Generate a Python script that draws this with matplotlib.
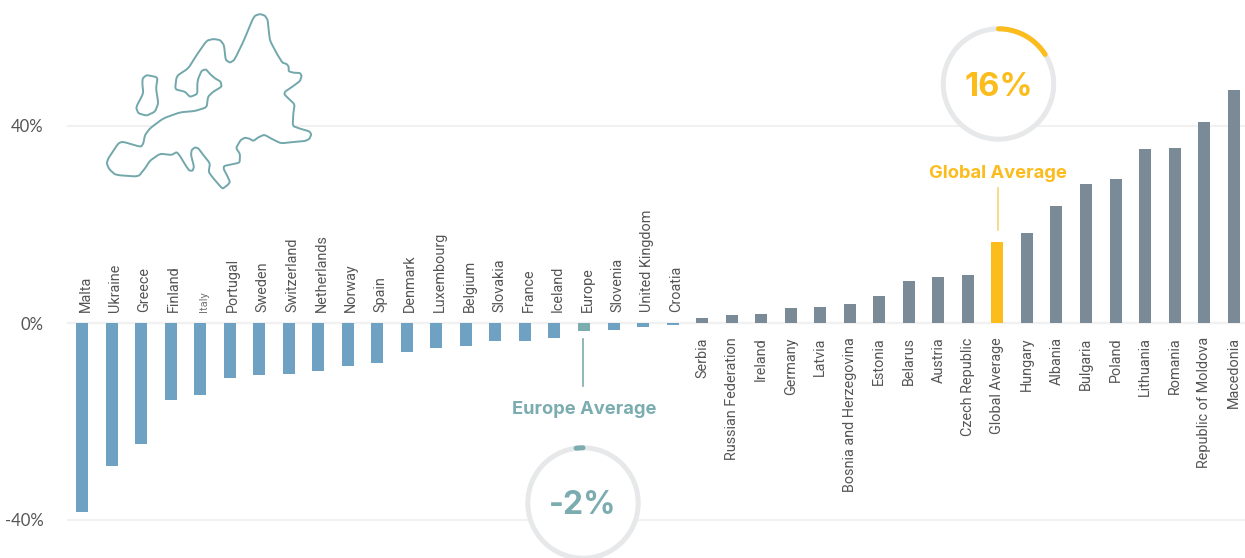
import matplotlib
matplotlib.use('Agg')
import matplotlib.pyplot as plt
import numpy as np
from matplotlib.patches import Circle, Polygon

# data
countries = ['Malta','Ukraine','Greece','Finland','Italy','Portugal','Sweden','Switzerland',
             'Netherlands','Norway','Spain','Denmark','Luxembourg','Belgium','Slovakia','France',
             'Iceland','Europe','Slovenia','United Kingdom','Croatia','Serbia','Russian Federation',
             'Ireland','Germany','Latvia','Bosnia and Herzegovina','Estonia','Belarus','Austria',
             'Czech Republic','Global Average','Hungary','Albania','Bulgaria','Poland','Lithuania',
             'Romania','Republic of Moldova','Macedonia']
values = [-38.4,-29.0,-24.6,-15.6,-14.6,-11.2,-10.6,-10.4,-9.7,-8.7,-8.1,-5.9,-5.1,-4.7,-3.7,-3.7,
          -3.0,-1.6,-1.4,-0.8,-0.4,1.0,1.6,1.9,3.0,3.3,3.9,5.5,8.5,9.3,9.8,16.4,18.3,23.8,28.2,
          29.2,35.3,35.5,40.8,47.3]
y_ticks = [-40,0,40]
y_tick_labels = ['-40%','0%','40%']
global_pct = 16
europe_pct = 2

# map outline, traced in pixels x3
map_main = [(780,42),(795,47),(803,60),(806,90),(810,122),(830,160),(847,188),(860,192),(866,200),
            (866,214),(880,218),(900,219),(905,228),(900,243),(880,258),(855,275),(853,283),(865,295),
            (884,313),(880,340),(878,378),(900,386),(928,394),(934,403),(928,417),(915,423),(880,426),
            (843,430),(818,418),(793,404),(775,412),(760,423),(748,416),(735,413),(722,420),(708,444),
            (720,462),(719,488),(695,493),(672,498),(671,507),(682,528),(690,546),(683,555),(668,566),
            (660,558),(640,535),(626,516),(630,490),(610,465),(595,445),(585,442),(575,450),(573,465),
            (582,500),(578,512),(568,512),(558,498),(540,468),(530,456),(515,465),(480,461),(450,482),
            (435,505),(415,530),(347,525),(328,508),(320,490),(325,475),(355,430),(368,425),(423,441),
            (430,430),(435,405),(450,385),(490,355),(540,337),(585,333),(620,322),(624,290),(640,275),
            (665,260),(662,245),(645,235),(630,222),(618,208),(605,212),(595,235),(592,250),(592,282),
            (570,291),(555,275),(525,268),(530,228),(565,205),(590,165),(620,122),(640,117),(660,120),
            (672,135),(677,180),(690,188),(703,180),(730,125),(757,60),(765,47)]
map_island = [(428,235),(440,225),(473,232),(468,265),(475,310),(465,335),(440,347),(415,340),
              (408,322),(430,280),(427,250)]

W, H = 1245, 558
BLUE = '#6fa1c3'
GREY = '#7a8a96'
YELLOW = '#fbbc1c'
TEAL = '#7bacaf'
RING = '#e7e8ea'
TEXT = '#555555'

def smooth(points, n=2, cut=0.14):
    # light corner cutting, long straight runs stay straight
    p = np.array(points, dtype=float) / 3
    for _ in range(n):
        q = np.roll(p, -1, axis=0)
        p = np.column_stack([(1-cut)*p + cut*q, cut*p + (1-cut)*q]).reshape(-1, 2)
    return p

plt.rcParams['font.family'] = ['Roboto', 'DejaVu Sans']
fig = plt.figure(figsize=(W/100, H/100), dpi=100)

# main axes, 0% at 323px and 4.925px per percent
left = 67
ax = fig.add_axes([left/W, 0, (W-left)/W, 1])
step = 29.53
ax.set_xlim((left-82)/step, (W-82)/step)
ax.set_ylim((323-H)/4.925, 323/4.925)

colors = []
for c, v in zip(countries, values):
    if c == 'Europe':
        colors.append(TEAL)
    elif c == 'Global Average':
        colors.append(YELLOW)
    elif v < 0:
        colors.append(BLUE)
    else:
        colors.append(GREY)
x = np.arange(len(countries))
ax.bar(x, values, width=12/step, color=colors, zorder=3)

for i, (c, v) in enumerate(zip(countries, values)):
    fs = 8 if c == 'Italy' else 10.35
    col = '#777777' if c == 'Italy' else TEXT
    if v < 0:
        ax.text(i + 0.12, 2.2, c, rotation=90, ha='center', va='bottom', fontsize=fs, color=col)
    else:
        ax.text(i, -2.9, c, rotation=90, ha='center', va='top', fontsize=fs, color=col)

ax.set_yticks(y_ticks)
ax.set_yticklabels(y_tick_labels, fontfamily='Lato', fontsize=12, color=TEXT)
ax.tick_params(axis='y', length=0, pad=17)
ax.set_xticks([])
ax.grid(axis='y', color='#f1f1f1', linewidth=1.5, zorder=0)
ax.axhline(0, color='#e2e2e2', linewidth=1.5, zorder=1)
for s in ax.spines.values():
    s.set_visible(False)
ax.patch.set_alpha(0)

# overlay in pixel coordinates for the map and the rings
ov = fig.add_axes([0, 0, 1, 1], zorder=5)
ov.set_xlim(0, W)
ov.set_ylim(H, 0)
ov.axis('off')

for shape in [map_main, map_island]:
    ov.add_patch(Polygon(smooth(shape), closed=True, facecolor='white', edgecolor='#72a7ab',
                         linewidth=1.4, joinstyle='round'))

def ring(cx, cy, pct, color, clockwise=True):
    ov.add_patch(Circle((cx, cy), 55.2, facecolor='white', edgecolor=RING, linewidth=3.6))
    sweep = pct * 3.6
    # y axis is inverted, so angles run clockwise on screen
    if clockwise:
        t1, t2 = -90, -90 + sweep
    else:
        t1, t2 = -90 - sweep, -90
    t = np.radians(np.linspace(t1, t2, 60))
    ov.plot(cx + 55.2*np.cos(t), cy + 55.2*np.sin(t), color=color, linewidth=3.6,
            solid_capstyle='round')

ring(998.5, 84, global_pct, YELLOW)
ring(583, 503, europe_pct, TEAL, clockwise=False)

bold = dict(ha='center', va='center', fontweight='bold', fontfamily='Inter')
ov.text(998.5, 87, f'{global_pct}%', fontsize=23.5, color=YELLOW, **bold)
ov.text(583, 506, f'-{europe_pct}%', fontsize=23, color=TEAL, **bold)
ov.text(998, 173, 'Global Average', fontsize=13.2, color=YELLOW, **bold)
ov.text(584, 409, 'Europe Average', fontsize=13.2, color=TEAL, **bold)
ov.plot([998, 998], [188, 230], color='#fcd377', linewidth=1.2)
ov.plot([583, 583], [339, 386], color=TEAL, linewidth=1.2)

fig.savefig('out.png', dpi=100)
